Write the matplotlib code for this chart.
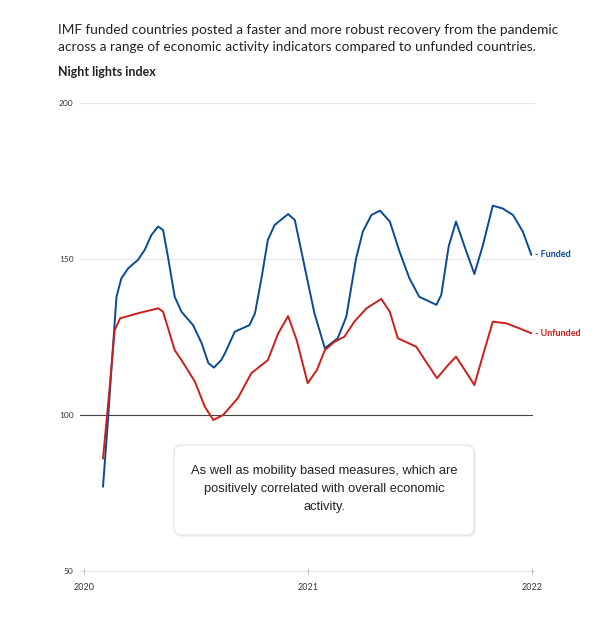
import matplotlib.pyplot as plt
import pandas as pd
from matplotlib.patches import FancyBboxPatch

# days since 2020-01-01
funded_day = [31, 39, 45, 53, 61, 72, 88, 99, 110, 121, 129, 137, 148, 159, 178, 192, 203, 212,
              224, 230, 246, 270, 279, 290, 300, 311, 333, 344, 360, 376, 393, 414, 428, 444,
              455, 469, 483, 499, 515, 531, 547, 575, 583, 595, 607, 622, 637, 651, 667, 683,
              700, 716, 730]
funded = [77, 98, 115.5, 137.9, 143.8, 147, 149.7, 152.9, 157.7, 160.4, 159.3, 150.7, 137.9, 133.1,
          128.8, 123, 116.6, 115.2, 117.6, 119.8, 126.7, 128.8, 132.6, 144.3, 156.1, 160.9, 164.4,
          162.5, 147.5, 132.6, 121.4, 124.6, 131.5, 150.2, 158.8, 164.1, 165.5, 162, 152.3, 143.8,
          137.9, 135.3, 138.5, 154, 162, 153.4, 145.2, 154.5, 167.1, 166.2, 164.1, 158.8, 151.3]

unfunded_day = [31, 42, 50, 59, 88, 121, 129, 148, 159, 181, 197, 211, 227, 251, 273, 300, 317,
                333, 347, 365, 380, 393, 409, 425, 441, 461, 485, 499, 512, 542, 558, 576, 594,
                607, 622, 637, 651, 667, 689, 710, 730]
unfunded = [86, 109.1, 127.2, 131, 132.6, 134.2, 133.1, 120.8, 117.6, 110.7, 102.7, 98.4, 100,
            105.4, 113.4, 117.6, 126.2, 131.7, 124, 110.2, 114.4, 120.8, 123.5, 125.1, 129.9,
            134.2, 137.2, 133.1, 124.6, 121.9, 117.1, 111.8, 116, 118.7, 114.2, 109.6, 119.2,
            129.9, 129.4, 127.8, 126.2]

year_ticks = ["2020-01-01", "2021-01-01", "2022-01-01"]
year_labels = ["2020", "2021", "2022"]
y_ticks = [50, 100, 150, 200]

blue = "#0b4a93"
red = "#cc1f1a"
font = ["Lato", "DejaVu Sans"]

start = pd.Timestamp(year_ticks[0])
funded_dates = start + pd.to_timedelta(funded_day, unit="D")
unfunded_dates = start + pd.to_timedelta(unfunded_day, unit="D")

fig = plt.figure(figsize=(6, 6.25), dpi=100)
ax = fig.add_axes([84 / 600, 1 - 571 / 625, 448 / 600, 468 / 625])

x0 = pd.Timestamp(year_ticks[0])
x1 = pd.Timestamp(year_ticks[-1])
ax.set_xlim(x0, x1)
ax.set_ylim(50, 200)

for v in y_ticks:
    if v == 100:
        ax.plot([x0 - pd.Timedelta(days=6), x1], [v, v], color="#444444", lw=0.8, clip_on=False, zorder=1)
    else:
        ax.plot([x0 - pd.Timedelta(days=6), x1 + pd.Timedelta(days=4)], [v, v], color="#e6e6e6",
                lw=0.8, clip_on=False, zorder=1)
    ax.text(x0 - pd.Timedelta(days=17), v, str(v), ha="right", va="center", fontsize=6,
            color="#333333", family=font)

ax.plot(funded_dates, funded, color=blue, lw=1.4, solid_joinstyle="round", solid_capstyle="round", zorder=3)
ax.plot(unfunded_dates, unfunded, color=red, lw=1.4, solid_joinstyle="round", solid_capstyle="round", zorder=3)

ax.text(x1 + pd.Timedelta(days=5), funded[-1], "- Funded", color=blue, fontsize=6.5,
        fontweight="bold", va="center", ha="left", family=font)
ax.text(x1 + pd.Timedelta(days=5), unfunded[-1], "- Unfunded", color=red, fontsize=6.5,
        fontweight="bold", va="center", ha="left", family=font)

ax.set_xticks(pd.to_datetime(year_ticks))
ax.set_xticklabels(year_labels, fontsize=6.5, color="#333333", family=font)
ax.tick_params(axis="x", length=5, direction="inout", color="#bbbbbb", width=0.8, pad=6)
ax.set_yticks([])
for s in ax.spines.values():
    s.set_visible(False)

fig.text(58 / 600, 1 - 30 / 625, "IMF funded countries posted a faster and more robust recovery from the pandemic",
         fontsize=9.8, color="#222222", va="center", ha="left", family=font)
fig.text(58 / 600, 1 - 47 / 625, "across a range of economic activity indicators compared to unfunded countries.",
         fontsize=9.8, color="#222222", va="center", ha="left", family=font)
fig.text(58 / 600, 1 - 72 / 625, "Night lights index", fontsize=9, fontweight="bold",
         color="#222222", va="center", ha="left", family=font)

shadow = FancyBboxPatch((176 / 600, 1 - 537 / 625), 300 / 600, 90 / 625,
                        boxstyle="round,pad=0,rounding_size=0.012", transform=fig.transFigure,
                        facecolor="#f0f0f0", edgecolor="none", zorder=4)
box = FancyBboxPatch((174 / 600, 1 - 535 / 625), 300 / 600, 90 / 625,
                     boxstyle="round,pad=0,rounding_size=0.012", transform=fig.transFigure,
                     facecolor="white", edgecolor="#e2e2e2", lw=0.8, zorder=5)
fig.patches.extend([shadow, box])
fig.text(324 / 600, 1 - 489 / 625,
         "As well as mobility based measures, which are\npositively correlated with overall economic\nactivity.",
         fontsize=9.3, color="#222222", ha="center", va="center", linespacing=1.7,
         family=["Liberation Sans", "DejaVu Sans"], zorder=6)

fig.savefig("out.png", dpi=100, facecolor="white")
